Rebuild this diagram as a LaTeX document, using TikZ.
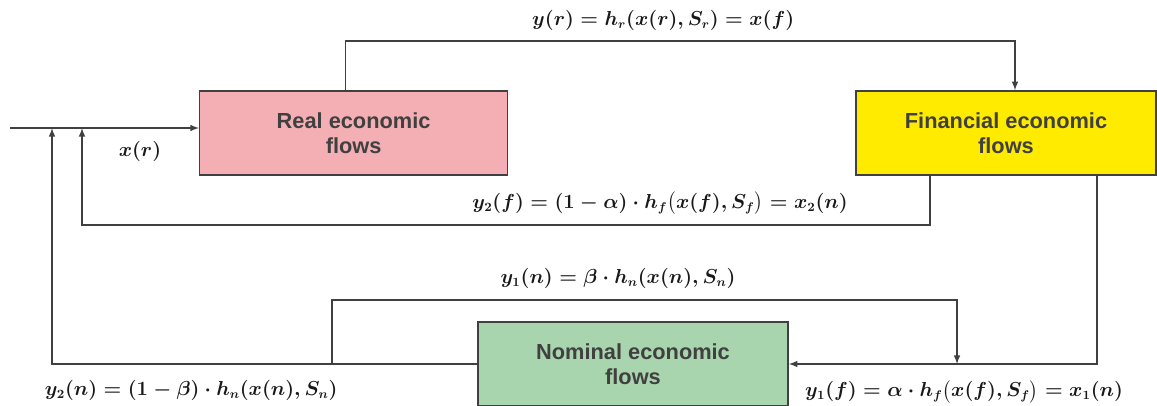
\documentclass[tikz,border=0pt]{standalone}
\usepackage{amsmath}
\usepackage{amssymb}
\usepackage{fontspec}
\setmainfont{Liberation Sans}
\usepackage{tikz}
\usetikzlibrary{arrows,positioning,calc}
\definecolor{realpink}{HTML}{F4AFB4}
\definecolor{finyellow}{HTML}{FFEB00}
\definecolor{nomgreen}{HTML}{A9D5AE}
\definecolor{linegray}{HTML}{404040}
\tikzset{flowbox/.style={draw=linegray, line width=1.1pt, minimum height=2.1cm, minimum width=7.7cm, align=center, font=\fontsize{15.5}{18}\selectfont\bfseries, text=linegray}}
\tikzset{arrow/.style={-latex, line width=1.1pt, color=linegray}}
\tikzset{eqlabel/.style={font=\fontsize{13.4}{16}\selectfont\boldmath, text=black!90}}

\begin{document}
\begin{tikzpicture}
  \useasboundingbox (0,0) rectangle (28.925,10.125);
  % Cajas de flujos
  \node[flowbox, fill=realpink] (real) at (8.84,6.8) {Real economic\\flows};
  \node[flowbox, fill=finyellow, minimum width=7.5cm] (fin) at (25.15,6.8) {Financial economic\\flows};
  \node[flowbox, fill=nomgreen, minimum width=7.75cm] (nom) at (15.825,1.025) {Nominal economic\\flows};
  \coordinate (in) at (0.25,6.925);
  % Esquinas de los retornos
  \coordinate (cf) at (2.05,4.5);
  \coordinate (cn) at (1.3,1.025);
  \coordinate (cb) at (23.925,2.625);

  % Entrada y flujo real -> financiero
  \draw[arrow] (in) -- (in -| real.west);
  \draw[arrow] ([xshift=-0.2cm]real.north) -- ++(0,1.225) -| ([xshift=0.225cm]fin.north);

  % Retornos hacia la entrada
  \draw[arrow] ([xshift=-1.9cm]fin.south) |- (cf) -- (cf |- in);
  \draw[arrow] (nom.west) -| (cn |- in);
  \draw[arrow] ([xshift=2.275cm]fin.south) |- (nom.east);
  \draw[arrow] ([xshift=-3.625cm]nom.west) |- (cb) -- (cb |- nom.east);

  % Etiquetas
  \node[eqlabel] (lxr) at (3.5,6.33) {$x(r)$};
  \node[eqlabel] (lyr) at (16.58,9.62) {$y(r) = h_r(x(r),S_r) = x(f)$};
  \node[eqlabel] (ly2f) at (16.5,5.05) {$y_2(f) = (1-\alpha)\cdot h_f\bigl(x(f),S_f\bigr) = x_2(n)$};
  \node[eqlabel] (ly1n) at (15.45,3.17) {$y_1(n) = \beta\cdot h_n(x(n),S_n)$};
  \node[eqlabel] (ly2n) at (4.78,0.37) {$y_2(n) = (1-\beta)\cdot h_n(x(n),S_n)$};
  \node[eqlabel] (ly1f) at (24.1,0.33) {$y_1(f) = \alpha\cdot h_f\bigl(x(f),S_f\bigr) = x_1(n)$};
\end{tikzpicture}
\end{document}
